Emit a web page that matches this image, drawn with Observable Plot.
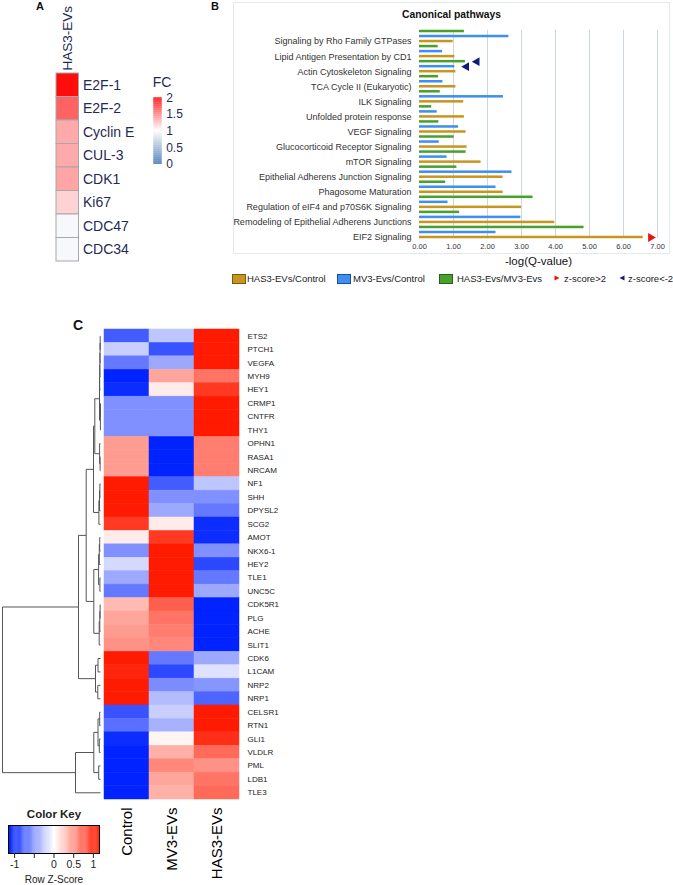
<!DOCTYPE html>
<html><head><meta charset="utf-8">
<script src="https://cdn.jsdelivr.net/npm/d3@7"></script>
<script src="https://cdn.jsdelivr.net/npm/@observablehq/plot@0.6"></script>
<style>
body{margin:0;background:#fff;font-family:"Liberation Sans",Arial,sans-serif;}
#root{position:relative;width:673px;height:885px;overflow:hidden;background:#fff;}
#root svg{position:absolute;overflow:visible;}
.lab{position:absolute;font-weight:bold;color:#111;line-height:1;}
.leg{position:absolute;font-size:9.5px;color:#222;line-height:1;white-space:nowrap;}
</style></head><body><div id="root"></div>
<script>
// ---------- Panel A data ----------
const genesA = ["E2F-1","E2F-2","Cyclin E","CUL-3","CDK1","Ki67","CDC47","CDC34"];
const fcA = [2.0,1.65,1.35,1.35,1.37,1.18,0.95,0.95];
const sampleA = "HAS3-EVs";
const fcTicks = [0,0.5,1,1.5,2];

// ---------- Panel B data ----------
const pathways = ["Signaling by Rho Family GTPases","Lipid Antigen Presentation by CD1","Actin Cytoskeleton Signaling","TCA Cycle II (Eukaryotic)","ILK Signaling","Unfolded protein response","VEGF Signaling","Glucocorticoid Receptor Signaling","mTOR Signaling","Epithelial Adherens Junction Signaling","Phagosome Maturation","Regulation of eIF4 and p70S6K Signaling","Remodeling of Epithelial Adherens Junctions","EIF2 Signaling"];
const seriesNames = ["HAS3-Evs/MV3-Evs","MV3-Evs/Control","HAS3-EVs/Control"];
const seriesColors = ["#47a12b","#3d8ff0","#c8951f"];
const qHAS3vsMV3 = [1.32,0.55,1.35,0.56,0.61,0.36,0.57,1.02,1.37,1.10,0.77,3.34,1.18,4.84];
const qMV3vsControl = [2.63,0.68,1.04,0.69,2.47,0.52,1.15,0.58,0.81,2.72,2.25,0.84,2.98,2.25];
const qHAS3vsControl = [0.99,1.04,1.07,1.07,1.30,1.32,1.37,1.40,1.81,2.46,2.46,3.00,3.98,6.58];
const zUp = [{pathway:"EIF2 Signaling", series:"HAS3-EVs/Control", x:6.8}];
const zDown = [{pathway:"Actin Cytoskeleton Signaling", series:"HAS3-Evs/MV3-Evs", x:1.69},
               {pathway:"Actin Cytoskeleton Signaling", series:"MV3-Evs/Control", x:1.38}];
const xTicksB = [0,1,2,3,4,5,6,7];

// ---------- Panel C data ----------
const genesC = ["ETS2","PTCH1","VEGFA","MYH9","HEY1","CRMP1","CNTFR","THY1","OPHN1","RASA1","NRCAM","NF1","SHH","DPYSL2","SCG2","AMOT","NKX6-1","HEY2","TLE1","UNC5C","CDK5R1","PLG","ACHE","SLIT1","CDK6","L1CAM","NRP2","NRP1","CELSR1","RTN1","GLI1","VLDLR","PML","LDB1","TLE3"];
const samplesC = ["Control","MV3-EVs","HAS3-EVs"];
const zControl = [-0.85,-0.25,-0.7,-1.15,-1.1,-0.577,-0.577,-0.577,0.5,0.5,0.5,1.15,1.155,1.15,1.0,0.1,-0.577,-0.2,-0.45,-0.7,0.35,0.45,0.5,0.55,1.15,1.1,1.15,1.15,-0.9,-0.75,-1.1,-1.15,-1.15,-1.15,-1.15];
const zMV3 = [-0.3,-0.9,-0.45,0.45,0.1,-0.577,-0.577,-0.577,-1.15,-1.15,-1.15,-0.85,-0.577,-0.45,0.1,1.0,1.155,1.15,1.15,1.15,0.8,0.7,0.65,0.6,-0.7,-0.95,-0.6,-0.35,-0.25,-0.4,0.05,0.4,0.6,0.45,0.4];
const zHAS3 = [1.15,1.15,1.15,0.7,1.0,1.155,1.155,1.155,0.65,0.65,0.65,-0.3,-0.577,-0.7,-1.1,-1.1,-0.577,-0.95,-0.7,-0.45,-1.15,-1.15,-1.15,-1.15,-0.45,-0.15,-0.55,-0.8,1.15,1.15,1.05,0.75,0.55,0.7,0.75];
// dendrogram: [height, left, right]
const dendroTree =
[98,
  [22,
    [14.3,
      [7,
        [5.7,
          [1.0,[0.8,[0.6,[0.45,[0.3,"ETS2","PTCH1"],"VEGFA"],"MYH9"],"HEY1"],[0.1,[0,"CRMP1","CNTFR"],"THY1"]],
          [0.9,"OPHN1",[0.4,"RASA1","NRCAM"]]
        ],
        [1.6,[1.0,[0.6,"NF1","SHH"],"DPYSL2"],"SCG2"]
      ],
      [6.7,
        [1.9,[1.2,[0.8,"AMOT","NKX6-1"],"HEY2"],[0.6,"TLE1","UNC5C"]],
        [1.3,[0.7,[0.4,"CDK5R1","PLG"],"ACHE"],"SLIT1"]
      ]
    ],
    [5,[2.5,"CDK6","L1CAM"],[2.7,"NRP2","NRP1"]]
  ],
  [25,
    [6.7,[2.5,[0.8,"CELSR1","RTN1"],[1.2,"GLI1","VLDLR"]],[1.8,"PML","LDB1"]],
    "TLE3"
  ]
];
const keyTicks = [-1,-0.5,0,0.5,1];
const keyTickLabels = ["-1","","0","0.5","1"];

// ---------- helpers ----------
const root = document.getElementById("root");
function place(el, left, top){ el.style.left = left+"px"; el.style.top = top+"px"; root.appendChild(el); return el; }
function div(cls, text, left, top, extra){ const d=document.createElement("div"); d.className=cls; d.textContent=text; if(extra) Object.assign(d.style, extra); return place(d,left,top); }
const FONT = "'Liberation Sans', Arial, sans-serif";

// Panel B frame box (behind)
const box = document.createElement("div");
Object.assign(box.style,{position:"absolute",width:"437px",height:"252px",border:"1px solid #e4e9ed",boxSizing:"border-box"});
place(box,233,2);

// ---------- Panel A ----------
const fcColor = {type:"linear", domain:[0,1,2], range:["#4a7cb5","#ffffff","#ff0d0d"], interpolate:"rgb"};
const cellsA = genesA.map((g,i)=>({gene:g, sample:sampleA, fc:fcA[i]}));
const plotA = Plot.plot({
  width:150, height:265, marginLeft:56, marginRight:71.5, marginTop:73, marginBottom:4,
  style:{background:"transparent", color:"#1f2a55", fontFamily:FONT},
  x:{type:"band", domain:[sampleA], padding:0, round:false},
  y:{type:"band", domain:genesA, padding:0, round:false},
  color:fcColor,
  marks:[
    Plot.cell(cellsA,{x:"sample", y:"gene", fill:"fc", stroke:"#a8a8a8", strokeWidth:1, inset:0}),
    Plot.axisY({anchor:"right", tickSize:0, tickPadding:4, fontSize:14, label:null}),
    Plot.axisX({anchor:"top", tickSize:0, tickPadding:3, tickRotate:-90, fontSize:13.5, label:null})
  ]
});
place(plotA,0,0);

// FC legend
const fcSteps = d3.range(0,2,0.02);
const legA = Plot.plot({
  width:50, height:110, marginLeft:13.3, marginRight:28.3, marginTop:27.3, marginBottom:16,
  style:{background:"transparent", color:"#1f2a55", fontFamily:FONT},
  x:{domain:[0,1], axis:null},
  y:{domain:[0,2]},
  color:fcColor,
  marks:[
    Plot.rect(fcSteps,{x1:0, x2:1, y1:d=>d, y2:d=>Math.min(2,d+0.025), fill:d=>d, inset:0}),
    Plot.axisY({anchor:"right", ticks:fcTicks, tickSize:0, tickPadding:4, fontSize:12, tickFormat:d=>String(d), label:null}),
    Plot.text(["FC"],{frameAnchor:"top-left", text:d=>d, dy:-15, dx:-1, fontSize:14, textAnchor:"start", lineAnchor:"middle"})
  ]
});
place(legA,140,70);

// ---------- Panel B ----------
const valsBySeries = [qHAS3vsMV3, qMV3vsControl, qHAS3vsControl];
const key = (p,s)=>p+"||"+s;
const yKeys = pathways.flatMap(p=>seriesNames.map(s=>key(p,s)));
const barsB = pathways.flatMap((p,i)=>seriesNames.map((s,j)=>({pathway:p, series:s, value:valsBySeries[j][i]})));
const plotB = Plot.plot({
  width:441, height:270, marginLeft:187, marginRight:16, marginTop:29.75, marginBottom:31.75,
  style:{background:"transparent", color:"#333", fontFamily:FONT},
  x:{domain:[0,7]},
  y:{type:"band", domain:yKeys, paddingInner:0.5, paddingOuter:0, round:false},
  color:{domain:seriesNames, range:seriesColors},
  marks:[
    Plot.gridX({ticks:xTicksB.slice(1), stroke:"#cdd7e0", strokeOpacity:1, strokeWidth:1}),
    Plot.barX(barsB,{x:"value", y:d=>key(d.pathway,d.series), fill:"series"}),
    Plot.dot(zUp,{x:"x", y:d=>key(d.pathway,d.series), symbol:"triangle", rotate:90, r:3.3, fill:"#e8140c", stroke:"none"}),
    Plot.dot(zDown,{x:"x", y:d=>key(d.pathway,d.series), symbol:"triangle", rotate:-90, r:3.3, fill:"#0f1a7a", stroke:"none"}),
    Plot.axisY({tickSize:0, tickPadding:8, fontSize:9, label:null, tickFormat:k=>k.endsWith("||HAS3-EVs/Control") ? k.split("||")[0] : ""}),
    Plot.axisX({ticks:xTicksB, tickSize:0, tickPadding:5, fontSize:7.5, tickFormat:d=>d.toFixed(2), label:null}),
    Plot.text(["-log(Q-value)"],{frameAnchor:"bottom", text:d=>d, dy:23, fontSize:11.5, lineAnchor:"middle", fill:"#111"}),
    Plot.text(["Canonical pathways"],{frameAnchor:"top", text:d=>d, dy:-15.5, dx:-87, fontSize:10.3, fontWeight:"bold", lineAnchor:"middle", fill:"#111"})
  ]
});
place(plotB,232,0);

// Panel B legend (HTML)
function swatch(left, color, border){
  const s=document.createElement("div");
  Object.assign(s.style,{position:"absolute",width:"12px",height:"8px",background:color,border:"1px solid "+border});
  place(s,left,274);
}
function tri(left, color, dir){
  const ns="http://www.w3.org/2000/svg";
  const svg=document.createElementNS(ns,"svg"); svg.setAttribute("width","8"); svg.setAttribute("height","8");
  const p=document.createElementNS(ns,"path");
  p.setAttribute("d", dir>0 ? "M1.5,1.5 L6.5,4 L1.5,6.5 Z" : "M6.5,1.5 L1.5,4 L6.5,6.5 Z"); p.setAttribute("fill",color);
  svg.appendChild(p); svg.style.left=left+"px"; svg.style.top="274px"; root.appendChild(svg);
}
swatch(232, seriesColors[2], "#7a5a10"); div("leg","HAS3-EVs/Control",247,273.5);
swatch(337, seriesColors[1], "#1f4f9a"); div("leg","MV3-Evs/Control",353,273.5);
swatch(439, seriesColors[0], "#24601a"); div("leg","HAS3-Evs/MV3-Evs",457,273.5);
tri(553, "#e8140c", 1); div("leg","z-score>2",564,273.5);
tri(618, "#0f1a7a", -1); div("leg","z-score<-2",628,273.5);

// ---------- Panel C ----------
const zCols = [zControl, zMV3, zHAS3];
const cellsC = genesC.flatMap((g,i)=>samplesC.map((s,j)=>({gene:g, sample:s, z:zCols[j][i]})));
const zColor = {type:"linear", domain:[-1.155,0,1.155], range:["#0022ff","#ffffff","#ff1a00"], interpolate:"rgb"};
const plotC = Plot.plot({
  width:300, height:585, marginLeft:104, marginRight:61, marginTop:29, marginBottom:86,
  style:{background:"transparent", color:"#222", fontFamily:FONT},
  x:{type:"band", domain:samplesC, padding:0, round:false},
  y:{type:"band", domain:genesC, padding:0, round:false},
  color:zColor,
  marks:[
    Plot.cell(cellsC,{x:"sample", y:"gene", fill:"z", stroke:"z", strokeWidth:0.5, inset:0}),
    Plot.axisY({anchor:"right", tickSize:0, tickPadding:8, fontSize:8, label:null}),
    Plot.axisX({anchor:"bottom", tickSize:0, tickPadding:8, tickRotate:-90, fontSize:15, fill:"#000", label:null})
  ]
});
place(plotC,0,300);

// dendrogram segments from tree
const segs = [];
function walk(node){
  if (typeof node === "string") return {pos: genesC.indexOf(node)+0.5, h:0};
  const [h,l,r] = node;
  const a = walk(l), b = walk(r);
  segs.push({x1:h, x2:h, y1:a.pos, y2:b.pos});
  segs.push({x1:a.h, x2:h, y1:a.pos, y2:a.pos});
  segs.push({x1:b.h, x2:h, y1:b.pos, y2:b.pos});
  return {pos:(a.pos+b.pos)/2, h};
}
walk(dendroTree);
const plotD = Plot.plot({
  width:104, height:585, marginLeft:2, marginRight:4, marginTop:29, marginBottom:86,
  style:{background:"transparent"},
  x:{domain:[98,0], axis:null},
  y:{domain:[0,35], reverse:true, axis:null},
  marks:[ Plot.link(segs,{x1:"x1", x2:"x2", y1:"y1", y2:"y2", stroke:"#555", strokeWidth:1}) ]
});
place(plotD,0,300);

// Color key
const keySteps = d3.range(-1.155, 1.155, 0.0231);
const plotK = Plot.plot({
  width:110, height:85, marginLeft:8, marginRight:11, marginTop:25, marginBottom:32,
  style:{background:"transparent", color:"#222", fontFamily:FONT},
  x:{domain:[-1.155,1.155]},
  color:zColor,
  marks:[
    Plot.rect(keySteps,{x1:d=>d, x2:d=>Math.min(1.155,d+0.03), fill:d=>d, inset:0}),
    Plot.frame({stroke:"#000", strokeWidth:1}),
    Plot.axisX({ticks:keyTicks, tickSize:5, tickPadding:2, fontSize:10.5, tickFormat:d=>keyTickLabels[keyTicks.indexOf(d)], label:null}),
    Plot.text(["Color Key"],{frameAnchor:"top", text:d=>d, dy:-11, fontSize:11.5, fontWeight:"bold", lineAnchor:"middle"}),
    Plot.text(["Row Z-Score"],{frameAnchor:"bottom", text:d=>d, dy:26, fontSize:10, lineAnchor:"middle"})
  ]
});
place(plotK,0,800);

// panel letters
div("lab","A",36,1,{fontSize:"11px"});
div("lab","B",211,1,{fontSize:"11px"});
div("lab","C",73,318,{fontSize:"14px"});
</script></body></html>
